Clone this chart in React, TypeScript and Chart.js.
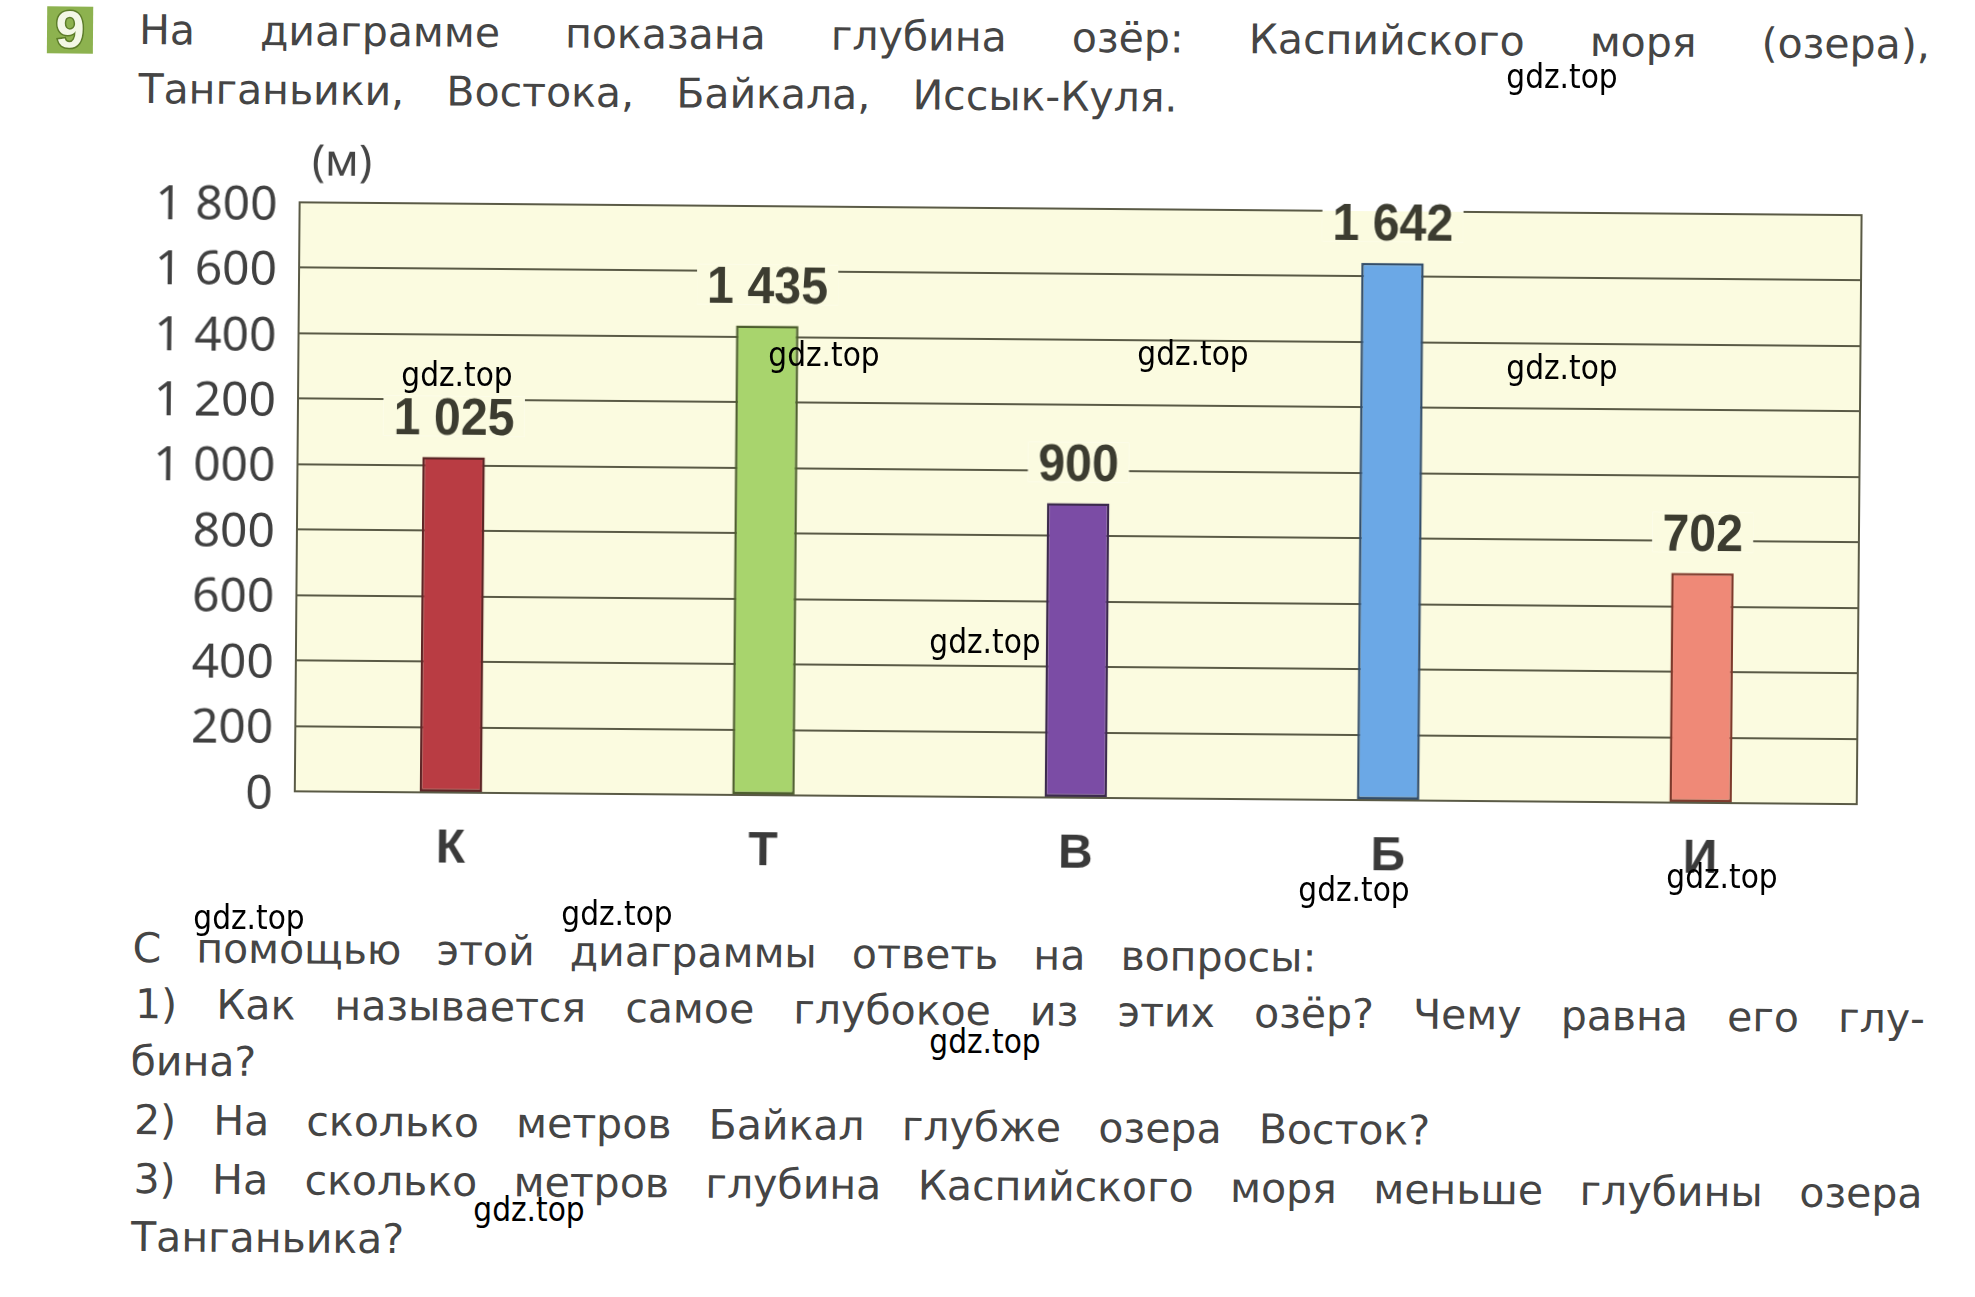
import React, { useEffect, useRef } from 'react';
import { Chart, registerables } from 'chart.js';

Chart.register(...registerables);

// ---------- data ----------
const categories = ['К', 'Т', 'В', 'Б', 'И'];
const depths = [1025, 1435, 900, 1642, 702];
const barColors = ['#b93c43', '#a8d46d', '#7b4ca5', '#6ba8e6', '#ef8977'];
const barBorderColors = ['#5e2626', '#4d5e2e', '#3c2a4e', '#334e6b', '#7e3a2c'];
const yTickValues = [0, 200, 400, 600, 800, 1000, 1200, 1400, 1600, 1800];
const yTickLabels = ['0', '200', '400', '600', '800', '1 000', '1 200', '1 400', '1 600', '1 800'];
const unitLabel = '(м)';
const taskNumber = '9';
const titleLines = [
  'На диаграмме показана глубина озёр: Каспийского моря (озера),',
  'Танганьики, Востока, Байкала, Иссык-Куля.',
];
const questionLines = [
  'С помощью этой диаграммы ответь на вопросы:',
  '1) Как называется самое глубокое из этих озёр? Чему равна его глу-',
  'бина?',
  '2) На сколько метров Байкал глубже озера Восток?',
  '3) На сколько метров глубина Каспийского моря меньше глубины озера',
  'Танганьика?',
];
const watermarkText = 'gdz.top';

// ---------- style ----------
const PLOT_BG = '#fbfbe0';
const GRID = '#5a5a46';
const TEXT = '#454545';
const BODY_FONT = '"DejaVu Sans", "Noto Sans", sans-serif';
const TICK_FONT = '"Noto Sans", "Open Sans", sans-serif';
const BOLD_FONT = '"Liberation Sans", Arial, sans-serif';
const LABEL_SX = 0.93;

const fmt = (v: number) =>
  v >= 1000 ? `${Math.floor(v / 1000)} ${String(v % 1000).padStart(3, '0')}` : String(v);

const bgPlugin = {
  id: 'plotBg',
  beforeDraw(chart: any) {
    const { ctx, chartArea: a } = chart;
    ctx.save();
    ctx.fillStyle = PLOT_BG;
    ctx.fillRect(a.left, a.top, a.right - a.left, a.bottom - a.top);
    ctx.restore();
  },
};

const framePlugin = {
  id: 'frame',
  beforeDatasetsDraw(chart: any) {
    const { ctx, chartArea: a } = chart;
    ctx.save();
    ctx.strokeStyle = GRID;
    ctx.lineWidth = 2;
    ctx.beginPath();
    ctx.moveTo(a.right, a.top - 1);
    ctx.lineTo(a.right, a.bottom + 1);
    ctx.stroke();
    ctx.restore();
  },
};

const valueLabelPlugin = {
  id: 'valueLabels',
  afterDatasetsDraw(chart: any) {
    const { ctx, chartArea: a } = chart;
    const meta = chart.getDatasetMeta(0);
    ctx.save();
    ctx.font = `bold 52px ${BOLD_FONT}`;
    meta.data.forEach((bar: any, i: number) => {
      const text = fmt(depths[i]);
      const w = ctx.measureText(text).width * LABEL_SX;
      const cx = bar.x;
      const cy = bar.y - 41;
      const rx = cx - w / 2 - 10;
      const ry = cy - 20;
      const rw = w + 20;
      const rh = 40;
      ctx.fillStyle = '#ffffff';
      ctx.fillRect(rx, ry, rw, rh);
      const yy = Math.max(ry, a.top);
      ctx.fillStyle = PLOT_BG;
      ctx.fillRect(rx, yy, rw, ry + rh - yy);
      ctx.save();
      ctx.translate(cx, cy);
      ctx.scale(LABEL_SX, 1);
      ctx.fillStyle = '#3c3c30';
      ctx.textAlign = 'center';
      ctx.textBaseline = 'alphabetic';
      ctx.fillText(text, 0, 18.6);
      ctx.restore();
    });
    ctx.restore();
  },
  afterDraw(chart: any) {
    const { ctx, chartArea: a } = chart;
    ctx.save();
    ctx.font = `44px ${TICK_FONT}`;
    ctx.fillStyle = TEXT;
    ctx.textAlign = 'center';
    ctx.textBaseline = 'middle';
    ctx.fillText(unitLabel, a.left + 42, a.top - 40);
    ctx.restore();
  },
};

function DepthChart() {
  const ref = useRef<HTMLCanvasElement | null>(null);
  useEffect(() => {
    if (!ref.current) return;
    const chart = new Chart(ref.current, {
      type: 'bar',
      data: {
        labels: categories,
        datasets: [
          {
            data: depths,
            backgroundColor: barColors,
            borderColor: barBorderColors,
            borderWidth: 2.5,
            borderSkipped: false,
            barPercentage: 0.2,
            categoryPercentage: 1,
          },
        ],
      },
      options: {
        responsive: false,
        animation: false,
        devicePixelRatio: 1,
        layout: { padding: { top: 208, right: 117, left: 0, bottom: 0 } },
        plugins: {
          legend: { display: false },
          tooltip: { enabled: false },
          title: { display: false },
        },
        scales: {
          x: {
            grid: { display: false },
            border: { display: false },
            ticks: {
              color: '#3a3a3a',
              font: { family: BOLD_FONT, size: 48, weight: 'bold' },
              padding: 20,
            },
            afterFit: (s: any) => {
              s.height = 103;
            },
          },
          y: {
            min: 0,
            max: 1800,
            ticks: {
              stepSize: 200,
              color: '#404040',
              font: { family: TICK_FONT, size: 48 },
              padding: 22,
              labelOffset: 4,
              callback: (v: any) => {
                const idx = yTickValues.indexOf(Number(v));
                return idx >= 0 ? yTickLabels[idx] : '';
              },
            },
            grid: { color: GRID, lineWidth: 2, drawTicks: false },
            border: { display: true, color: GRID, width: 2 },
            afterFit: (s: any) => {
              s.width = 296;
            },
          },
        },
      },
      plugins: [bgPlugin, framePlugin, valueLabelPlugin],
    } as any);
    return () => chart.destroy();
  }, []);
  return (
    <canvas
      ref={ref}
      width={1975}
      height={900}
      style={{ position: 'absolute', left: 0, top: 0, width: 1975, height: 900 }}
    />
  );
}

type LineProps = { text: string; left: number; right?: number; cy: number };
function TextLine({ text, left, right, cy }: LineProps) {
  const justify = right !== undefined;
  const base: any = {
    position: 'absolute',
    left,
    top: cy - 29,
    fontFamily: BODY_FONT,
    fontSize: 41,
    lineHeight: '60px',
    color: TEXT,
    whiteSpace: 'nowrap',
  };
  if (!justify) return <div style={base}>{text}</div>;
  const words = text.split(' ');
  return (
    <div style={{ ...base, width: right! - left, display: 'flex', justifyContent: 'space-between' }}>
      {words.map((w, i) => (
        <span key={i}>{w}</span>
      ))}
    </div>
  );
}

const watermarkSpots = [
  [1562, 79], [457, 377], [824, 357], [1193, 356], [1562, 370], [985, 644],
  [249, 920], [617, 916], [1354, 892], [1722, 879], [985, 1044], [529, 1212],
];

export default function App() {
  return (
    <div style={{ position: 'absolute', left: 0, top: 0, width: 1975, height: 1297, background: '#fff', overflow: 'hidden' }}>
      <div
        style={{
          position: 'absolute',
          left: 0,
          top: 0,
          width: 1975,
          height: 1297,
          transform: 'rotate(0.47deg)',
          transformOrigin: '987px 648px',
        }}
      >
        <div
          style={{
            position: 'absolute',
            left: 42,
            top: 14,
            width: 46,
            height: 47,
            background: '#8db24f',
            color: '#f3f7e6',
            fontFamily: BOLD_FONT,
            fontWeight: 'bold',
            fontSize: 52,
            lineHeight: '47px',
            textAlign: 'center',
            WebkitTextStroke: '3px #5d7d2a',
            paintOrder: 'stroke fill',
          } as any}
        >
          {taskNumber}
        </div>
        <TextLine text={titleLines[0]} left={134} right={1925} cy={36} />
        <TextLine text={titleLines[1]} left={134} right={1173} cy={95} />
        <DepthChart />
        <TextLine text={questionLines[0]} left={135} right={1319} cy={954} />
        <TextLine text={questionLines[1]} left={138} right={1928} cy={1010} />
        <TextLine text={questionLines[2]} left={134} cy={1067} />
        <TextLine text={questionLines[3]} left={138} right={1434} cy={1126} />
        <TextLine text={questionLines[4]} left={138} right={1927} cy={1185} />
        <TextLine text={questionLines[5]} left={136} cy={1243} />
      </div>
      {watermarkSpots.map(([x, y], i) => (
        <div
          key={i}
          style={{
            position: 'absolute',
            left: x,
            top: y - 3,
            transform: 'translate(-50%, -50%)',
            fontFamily: '"DejaVu Sans Condensed", "DejaVu Sans", sans-serif',
            fontStretch: 'condensed',
            fontSize: 33,
            lineHeight: 1,
            color: '#000',
            whiteSpace: 'nowrap',
          }}
        >
          {watermarkText}
        </div>
      ))}
    </div>
  );
}
